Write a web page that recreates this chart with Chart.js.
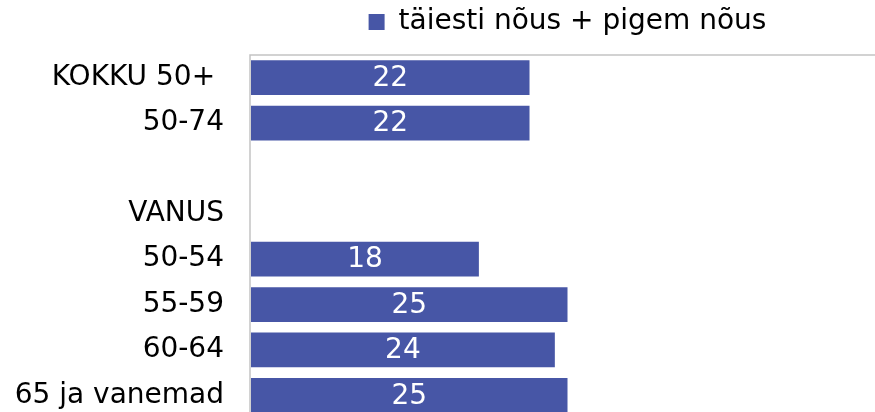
<!DOCTYPE html>
<html>
<head>
<meta charset="utf-8">
<script src="https://cdn.jsdelivr.net/npm/chart.js@4/dist/chart.umd.min.js"></script>
<style>
    body { margin: 0; background: #fff; overflow: hidden; }
    #clip { width: 875px; height: 412px; overflow: hidden; }
    canvas { display: block; }
</style>
</head>
<body>
<div id="clip">
    <canvas id="chart" width="886" height="418"></canvas>
</div>
<script>
// chart data
const categories = ['KOKKU 50+ ', '50-74', '', 'VANUS', '50-54', '55-59', '60-64', '65 ja vanemad'];
const seriesName = 'täiesti nõus + pigem nõus';
const seriesValues = [22, 22, null, null, 18, 25, 24, 25];
const axisMin = 0;
const axisMax = 50;

const FONT = "'DejaVu Sans', Verdana, sans-serif";
const barColor = '#4756a6';

// plot area frame (top and left lines)
const frame = {
    id: 'frame',
    beforeDatasetsDraw(chart) {
        const a = chart.chartArea;
        const ctx = chart.ctx;
        ctx.save();
        ctx.strokeStyle = '#c3c3c3';
        ctx.lineWidth = 1.5;
        ctx.strokeRect(a.left - 1, a.top, a.right - a.left + 1, a.bottom - a.top);
        ctx.restore();
    }
};

// white value labels in the middle of each bar
const valueLabels = {
    id: 'valueLabels',
    afterDatasetsDraw(chart) {
        const ctx = chart.ctx;
        ctx.save();
        ctx.fillStyle = '#ffffff';
        ctx.font = '28px ' + FONT;
        ctx.textAlign = 'center';
        ctx.textBaseline = 'middle';
        chart.getDatasetMeta(0).data.forEach((bar, i) => {
            const v = seriesValues[i];
            if (v === null) return;
            ctx.fillText(String(v), (bar.x + bar.base) / 2, bar.y + 1);
        });
        ctx.restore();
    }
};

const ctx = document.getElementById('chart').getContext('2d');
new Chart(ctx, {
    type: 'bar',
    data: {
        labels: categories,
        datasets: [{
            label: seriesName,
            data: seriesValues,
            backgroundColor: barColor,
            borderWidth: 0,
            barPercentage: 0.765,
            categoryPercentage: 1
        }]
    },
    options: {
        indexAxis: 'y',
        responsive: false,
        animation: false,
        layout: { padding: { left: 0, right: 2, top: 0, bottom: 0 } },
        plugins: {
            legend: {
                position: 'top',
                fullSize: false,
                labels: {
                    boxWidth: 16,
                    boxHeight: 16,
                    padding: 8,
                    color: '#000',
                    font: { family: FONT, size: 28 }
                }
            },
            tooltip: { enabled: false }
        },
        scales: {
            x: {
                position: 'top',
                min: axisMin,
                max: axisMax,
                ticks: { display: false },
                grid: { display: false, drawTicks: false },
                border: { display: false },
                afterFit: (scale) => { scale.height = 9; }
            },
            y: {
                ticks: {
                    autoSkip: false,
                    padding: 27,
                    color: '#000',
                    font: { family: FONT, size: 28 }
                },
                grid: { display: false, drawTicks: false },
                border: { display: false },
                afterFit: (scale) => {
                    scale.width = 251;
                    scale.paddingTop = 0;
                    scale.paddingBottom = 0;
                }
            }
        }
    },
    plugins: [frame, valueLabels]
});
</script>
</body>
</html>
